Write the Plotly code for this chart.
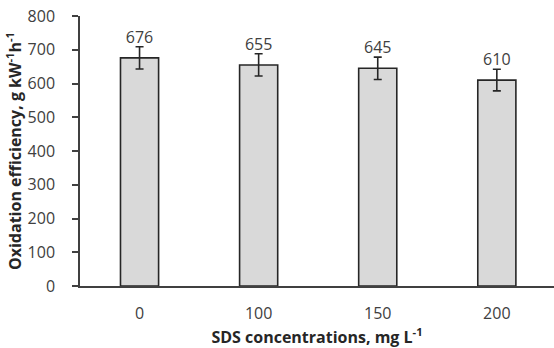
import plotly.graph_objects as go

categories = ["0", "100", "150", "200"]
values = [676, 655, 645, 610]
errors = [33, 33, 33, 32]
labels = ["676", "655", "645", "610"]

font_family = "Open Sans, Lato, sans-serif"
fig = go.Figure()
fig.add_trace(go.Bar(
    x=categories, y=values, width=0.32,
    marker=dict(color="#d9d9d9", line=dict(color="#262626", width=1.6)),
    error_y=dict(type="data", array=errors, color="#262626", thickness=1.6, width=4),
    showlegend=False,
))
fig.add_trace(go.Scatter(
    x=categories, y=[v + e for v, e in zip(values, errors)],
    mode="text", text=labels, textposition="top center",
    textfont=dict(size=16, color="#404040", family=font_family),
    showlegend=False, cliponaxis=False,
))
fig.update_layout(
    width=554, height=348,
    margin=dict(l=80, r=0, t=16, b=62),
    plot_bgcolor="white", paper_bgcolor="white",
    font=dict(family=font_family, color="#404040", size=16),
    xaxis=dict(
        range=[-0.5, 3.48], showline=True, linecolor="#404040", linewidth=1.5,
        ticks="", showgrid=False, tickfont=dict(size=16, color="#404040"),
        ticklabelstandoff=12,
        title=dict(text="<b>SDS concentrations, mg L<sup>-1</sup></b>", font=dict(size=16, color="#262626"), standoff=8),
    ),
    yaxis=dict(
        range=[0, 800], dtick=100, showline=True, linecolor="#404040", linewidth=1.5,
        ticks="outside", ticklen=6, tickcolor="#404040", tickwidth=1.5, showgrid=False,
        tickfont=dict(size=16, color="#404040"), ticklabelstandoff=14,
        title=dict(text="<b>Oxidation efficiency, g kW<sup>-1</sup>h<sup>-1</sup></b>", font=dict(size=16, color="#262626"), standoff=2),
    ),
    bargap=0.68,
)
fig.write_html("out.html")
